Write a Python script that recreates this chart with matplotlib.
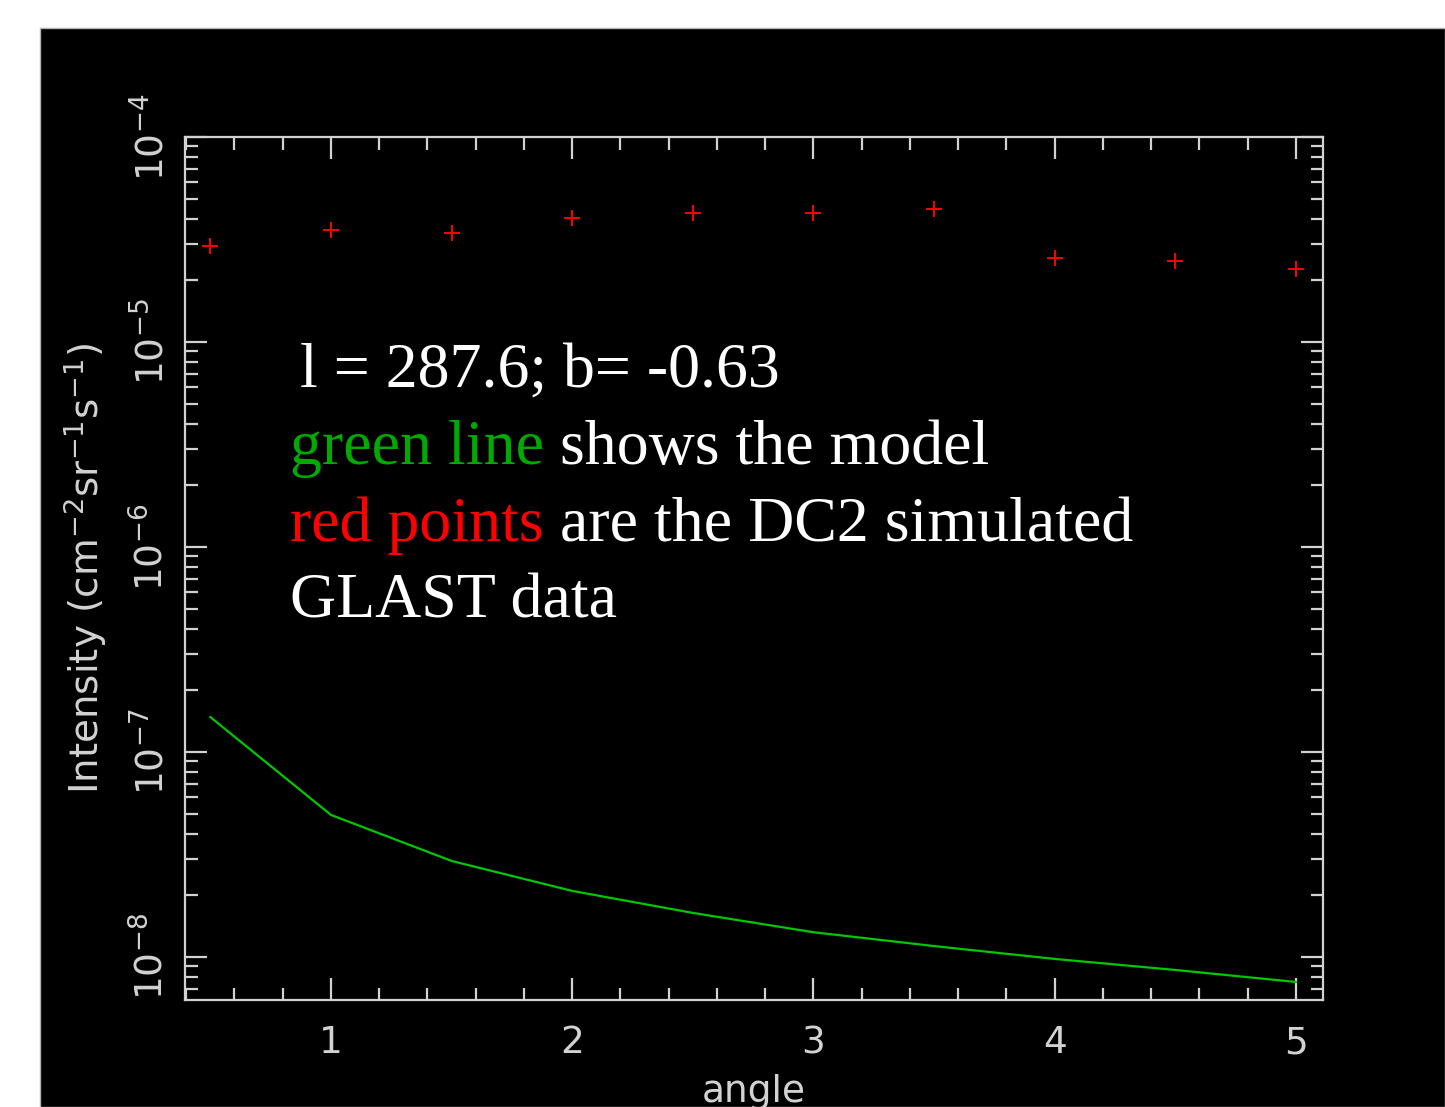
import matplotlib
matplotlib.use("Agg")
import matplotlib.pyplot as plt
from matplotlib.ticker import MultipleLocator, LogLocator, FixedLocator, NullFormatter
from matplotlib.patches import Rectangle

# ---- data ----
angle = [0.5, 1.0, 1.5, 2.0, 2.5, 3.0, 3.5, 4.0, 4.5, 5.0]
data_intensity = [2.94e-5, 3.52e-5, 3.40e-5, 4.03e-5, 4.26e-5, 4.26e-5, 4.45e-5, 2.57e-5, 2.48e-5, 2.27e-5]
model_intensity = [1.48e-7, 4.93e-8, 2.94e-8, 2.10e-8, 1.64e-8, 1.32e-8, 1.13e-8, 9.78e-9, 8.64e-9, 7.55e-9]
x_ticks = [1, 2, 3, 4, 5]
x_ticklabels = ["1", "2", "3", "4", "5"]

W, H = 1445, 1107
fig = plt.figure(figsize=(W / 100, H / 100), dpi=100, facecolor="white")

# black slide background
bg = Rectangle((40 / W, 0), 1 - 40 / W, 1 - 28 / H, transform=fig.transFigure,
               facecolor="black", edgecolor="#b0b0b0", linewidth=1.0, zorder=-10)
fig.add_artist(bg)

fg = "#d2d2d2"
ax = fig.add_axes([185 / W, 1 - 1000 / H, (1323 - 185) / W, (1000 - 137) / H])
ax.set_zorder(5)
ax.set_facecolor("black")
ax.set_yscale("log")
ax.set_xlim(0.395, 5.112)
ax.set_ylim(10 ** -8.21, 1e-4)

ax.plot(angle, model_intensity, color="#00c800", lw=1.6)
ax.plot(angle, data_intensity, linestyle="none", marker="+", color="red", markersize=12, markeredgewidth=1.4)

for s in ax.spines.values():
    s.set_color(fg)
    s.set_linewidth(1.6)

ax.xaxis.set_major_locator(FixedLocator(x_ticks))
ax.set_xticklabels(x_ticklabels)
ax.xaxis.set_minor_locator(MultipleLocator(0.2))
ax.yaxis.set_major_locator(LogLocator(base=10, numticks=20))
ax.yaxis.set_minor_locator(LogLocator(base=10, subs=range(2, 10), numticks=20))
ax.yaxis.set_minor_formatter(NullFormatter())

ax.tick_params(which="both", direction="in", top=True, right=True, color=fg, width=1.6, labelcolor=fg)
ax.tick_params(which="major", length=16)
ax.tick_params(which="minor", length=9)
ax.tick_params(axis="x", which="major", labelsize=27, pad=18)
ax.tick_params(axis="y", which="major", labelsize=27, labelrotation=90, pad=10)
for lbl in ax.get_yticklabels():
    lbl.set_va("center")

ax.set_xlabel("angle", color=fg, fontsize=27, labelpad=9)
ax.set_ylabel(r"Intensity (cm$^{-2}$sr$^{-1}$s$^{-1}$)", color=fg, fontsize=28, labelpad=16)

# annotation text
serif = "Liberation Serif"
fs = 46

def line(parts, x_px, base_px):
    t = ax.text(x_px / W, 1 - base_px / H, parts[0][0], color=parts[0][1], fontsize=fs,
                family=serif, va="baseline", ha="left", transform=fig.transFigure, zorder=10)
    prev = t
    for txt, col in parts[1:]:
        prev = ax.annotate(txt, xy=(1, 0), xycoords=prev, color=col, fontsize=fs,
                           family=serif, va="bottom", ha="left", annotation_clip=False, zorder=10)
    return t

line([("l = 287.6; b= -0.63", "white")], 300, 387)
line([("green line", "#00aa00"), (" shows the model", "white")], 290, 464)
line([("red points", "#ff0000"), (" are the DC2 simulated", "white")], 290, 541)
line([("GLAST data", "white")], 290, 618)

fig.savefig("out.png", dpi=100, facecolor="white")
